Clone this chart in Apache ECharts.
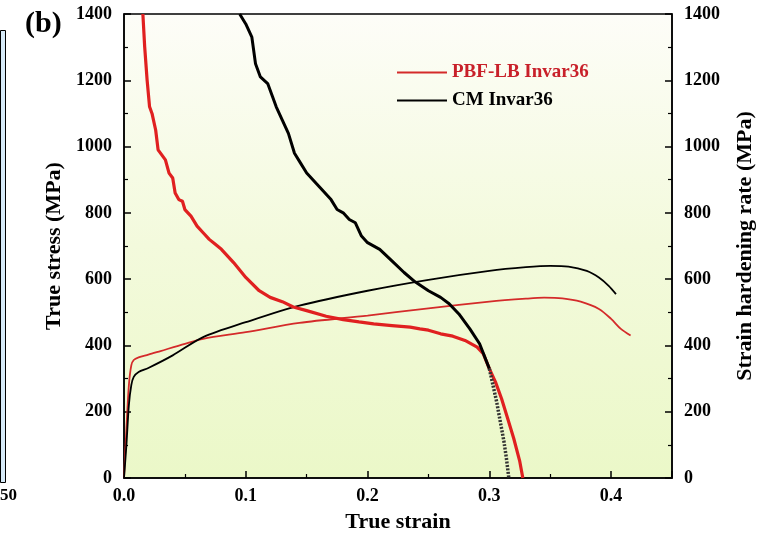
<!DOCTYPE html>
<html><head><meta charset="utf-8">
<script src="https://cdn.jsdelivr.net/npm/echarts@6/dist/echarts.min.js"></script>
<style>html,body{margin:0;padding:0;background:#fff}#c{width:771px;height:538px}</style>
</head><body><div id="c"></div>
<script>
// True stress curves (left axis)
const pbfStress = [[0,0],[0.002,150],[0.004,280],[0.006,340],[0.008,356],[0.012,364],[0.02,372],[0.03,383],[0.05,405],[0.065,420],[0.1,440],[0.144,468],[0.2,490],[0.25,512],[0.3,532],[0.33,541],[0.345,544],[0.36,542],[0.375,532],[0.39,510],[0.4,480],[0.408,450],[0.416,430]];
const cmStress = [[0,0],[0.002,100],[0.004,220],[0.006,280],[0.008,305],[0.012,320],[0.02,332],[0.04,370],[0.065,425],[0.1,470],[0.144,520],[0.2,565],[0.25,598],[0.3,625],[0.33,636],[0.35,640],[0.365,638],[0.38,625],[0.39,605],[0.398,580],[0.404,555]];
// Strain hardening rate curves (right axis)
const pbfHardening = [[0.0155,1400],[0.017,1300],[0.019,1200],[0.021,1120],[0.023,1100],[0.026,1050],[0.028,990],[0.031,975],[0.034,960],[0.037,920],[0.04,905],[0.042,860],[0.045,840],[0.048,835],[0.05,810],[0.055,790],[0.06,760],[0.065,740],[0.07,720],[0.075,705],[0.08,690],[0.09,650],[0.1,605],[0.111,565],[0.12,545],[0.13,532],[0.139,516],[0.15,505],[0.166,488],[0.18,478],[0.193,471],[0.205,465],[0.22,460],[0.235,455],[0.243,450],[0.25,446],[0.26,435],[0.27,428],[0.28,415],[0.29,395],[0.295,375],[0.3,330],[0.305,290],[0.31,240],[0.315,180],[0.32,120],[0.325,50],[0.3275,0]];
const cmHardening = [[0.095,1400],[0.1,1370],[0.105,1330],[0.108,1250],[0.112,1210],[0.118,1190],[0.122,1150],[0.125,1120],[0.13,1080],[0.135,1040],[0.14,980],[0.145,950],[0.15,920],[0.16,880],[0.17,840],[0.175,810],[0.18,800],[0.185,780],[0.19,770],[0.195,730],[0.2,710],[0.21,690],[0.22,655],[0.23,620],[0.239,592],[0.25,565],[0.26,545],[0.267,526],[0.275,495],[0.284,450],[0.292,405],[0.3,330]];
const cmHardeningTail = [[0.3,330],[0.303,280],[0.306,230],[0.309,170],[0.312,110],[0.314,60],[0.316,0]];
const xTicks = [0, 0.1, 0.2, 0.3, 0.4];
const yTicks = [0, 200, 400, 600, 800, 1000, 1200, 1400];

const F = '"Liberation Serif","Times New Roman",serif';
const chart = echarts.init(document.getElementById('c'), null, {renderer:'canvas'});
const axisCommon = {
  axisLine:{show:true,lineStyle:{color:'#000',width:1.5}},
  axisTick:{show:true,inside:true,length:7,lineStyle:{color:'#000',width:1.5}},
  minorTick:{show:true,splitNumber:2,length:4,lineStyle:{color:'#000',width:1.2}},
  splitLine:{show:false},
  axisLabel:{color:'#000',fontFamily:F,fontWeight:'bold',fontSize:18},
  nameTextStyle:{color:'#000',fontFamily:F,fontWeight:'bold',fontSize:22}
};
const yLabel = v => yTicks.includes(v) ? String(v) : '';
chart.setOption({
  animation:false,
  backgroundColor:'#fff',
  title:{text:'(b)',left:20,top:4,textStyle:{fontFamily:F,fontWeight:'bold',fontSize:30,color:'#000'}},
  graphic:[
    {type:'rect',left:0,top:30,shape:{width:5,height:452},style:{fill:'#d6eaf8',stroke:'#000',lineWidth:1}},
    {type:'text',left:0,top:487,style:{text:'50',font:'bold 17px "Liberation Serif",serif',fill:'#000'}}
  ],
  legend:{
    orient:'vertical',left:392,top:58,itemWidth:50,itemHeight:14,itemGap:9,
    icon:'path://M0,6 L50,6 L50,8 L0,8 Z',
    data:[
      {name:'PBF-LB Invar36',textStyle:{color:'#c8202a'},itemStyle:{color:'#d42a2a'}},
      {name:'CM Invar36',textStyle:{color:'#000'},itemStyle:{color:'#000'}}
    ],
    textStyle:{fontFamily:F,fontWeight:'bold',fontSize:19}
  },
  grid:{left:124,right:99,top:14,bottom:58,show:true,borderColor:'#000',borderWidth:1.5,
    backgroundColor:{type:'linear',x:0,y:0,x2:0,y2:1,colorStops:[{offset:0,color:'#fdfdf8'},{offset:0.5,color:'#f3fadc'},{offset:1,color:'#ebf8c8'}]}},
  xAxis:Object.assign({},axisCommon,{type:'value',min:0,max:0.45,interval:0.1,
    name:'True strain',nameLocation:'middle',nameGap:33,
    axisLabel:Object.assign({},axisCommon.axisLabel,{margin:9,formatter:v=>xTicks.includes(+v.toFixed(2))?v.toFixed(1):''})}),
  yAxis:[
    Object.assign({},axisCommon,{type:'value',min:0,max:1400,interval:200,position:'left',
      name:'True stress (MPa)',nameLocation:'middle',nameGap:56,
      axisLabel:Object.assign({},axisCommon.axisLabel,{margin:12,formatter:yLabel})}),
    Object.assign({},axisCommon,{type:'value',min:0,max:1400,interval:200,position:'right',
      name:'Strain hardening rate (MPa)',nameLocation:'middle',nameGap:62,nameRotate:90,
      axisLabel:Object.assign({},axisCommon.axisLabel,{margin:12,formatter:yLabel})})
  ],
  series:[
    {name:'PBF-LB Invar36',type:'line',data:pbfStress,yAxisIndex:0,symbol:'none',smooth:0.3,lineStyle:{color:'#d42a2a',width:1.8},itemStyle:{color:'#d42a2a'},z:3},
    {name:'CM Invar36',type:'line',data:cmStress,yAxisIndex:0,symbol:'none',smooth:0.3,lineStyle:{color:'#000',width:1.8},itemStyle:{color:'#000'},z:3},
    {name:'PBF-LB hardening',type:'line',data:pbfHardening,yAxisIndex:1,symbol:'none',lineStyle:{color:'#e02020',width:3.2},z:4},
    {name:'CM hardening',type:'line',data:cmHardening,yAxisIndex:1,symbol:'none',lineStyle:{color:'#000',width:3},z:4},
    {name:'CM hardening tail',type:'line',data:cmHardeningTail,yAxisIndex:1,symbol:'none',lineStyle:{color:'#333',width:3.5,type:[2,1.5]},z:4}
  ]
});
</script></body></html>
